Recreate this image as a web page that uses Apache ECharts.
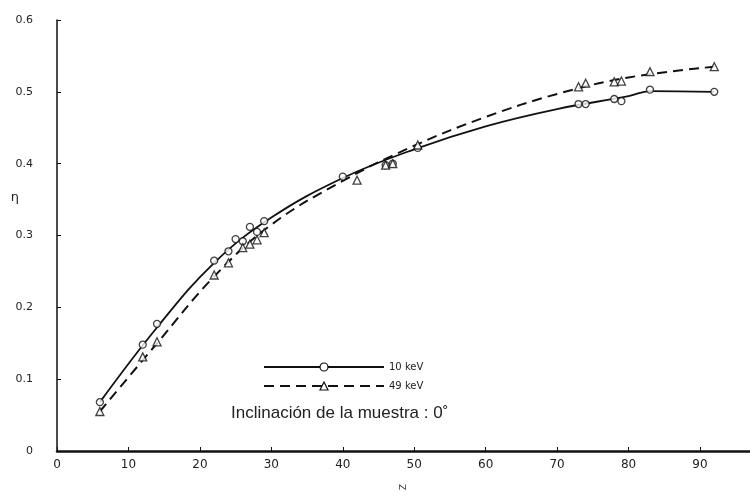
<!DOCTYPE html>
<html>
<head>
<meta charset="utf-8">
<script src="https://cdn.jsdelivr.net/npm/echarts@6/dist/echarts.min.js"></script>
<style>
  html, body { margin: 0; padding: 0; background: #fff; }
  #chart { width: 750px; height: 500px; }
</style>
</head>
<body>
<div id="chart"></div>
<script>
// measured points, 10 keV (circles)
const z10 = [6, 12, 14, 22, 24, 25, 26, 27, 28, 29, 40, 46, 47, 50.5, 73, 74, 78, 79, 83, 92]
const eta10 = [0.068, 0.148, 0.177, 0.265, 0.278, 0.295, 0.292, 0.312, 0.305, 0.320, 0.382, 0.398, 0.400, 0.422, 0.483, 0.483, 0.490, 0.487, 0.503, 0.500]

// measured points, 49 keV (triangles)
const z49 = [6, 12, 14, 22, 24, 26, 27, 28, 29, 42, 46, 47, 50.5, 73, 74, 78, 79, 83, 92]
const eta49 = [0.055, 0.131, 0.152, 0.245, 0.262, 0.283, 0.288, 0.294, 0.304, 0.377, 0.398, 0.400, 0.426, 0.507, 0.512, 0.514, 0.515, 0.528, 0.535]

// drawn curves
const curveZ10 = [6, 14, 22, 30, 40, 50, 60, 70, 80, 83, 92]
const curveEta10 = [0.068, 0.172, 0.262, 0.325, 0.380, 0.420, 0.452, 0.476, 0.494, 0.501, 0.500]
const curveZ49 = [6, 14, 22, 30, 40, 50, 60, 70, 80, 92]
const curveEta49 = [0.055, 0.150, 0.243, 0.315, 0.376, 0.425, 0.465, 0.497, 0.520, 0.535]

const names = ['10 keV', '49 keV']

const pairs = (xs, ys) => xs.map((x, i) => [x, ys[i]])

const chart = echarts.init(document.getElementById('chart'))

const markerStyle = { color: '#fff', borderColor: '#111', borderWidth: 1.3 }

const option = {
  animation: false,
  backgroundColor: '#fff',
  textStyle: { fontFamily: 'DejaVu Sans', color: '#222' },
  title: {
    text: 'Inclinación de la muestra : 0˚',
    left: 226,
    top: 400,
    textStyle: { fontSize: 17, fontWeight: 'normal', color: '#222', fontFamily: 'Liberation Sans' }
  },
  legend: {
    orient: 'vertical',
    left: 258,
    top: 357,
    itemWidth: 120,
    itemHeight: 10,
    itemGap: 9,
    textStyle: { fontSize: 10, color: '#222' },
    data: names.map((name) => ({ name, itemStyle: { color: '#fff', borderColor: '#111', borderWidth: 1.2, borderType: 'solid' } }))
  },
  grid: { left: 57, right: 0, top: 20, bottom: 49, outerBoundsMode: 'none' },
  xAxis: {
    type: 'value',
    min: 0,
    max: 97,
    interval: 10,
    name: 'Z',
    nameLocation: 'middle',
    nameGap: 33,
    nameRotate: 90,
    nameMoveOverlap: false,
    nameTextStyle: { fontSize: 9, color: '#333' },
    splitLine: { show: false },
    axisLine: { lineStyle: { color: '#111', width: 2.5 } },
    axisTick: { inside: true, length: 4, lineStyle: { color: '#111' } },
    axisLabel: {
      margin: 8,
      fontSize: 12,
      color: '#222',
      formatter: (v) => (v % 10 === 0 ? String(v) : '')
    }
  },
  yAxis: {
    type: 'value',
    min: 0,
    max: 0.6,
    interval: 0.1,
    name: 'η',
    nameLocation: 'middle',
    nameGap: 38,
    nameRotate: 0,
    nameMoveOverlap: false,
    nameTextStyle: { fontSize: 13, color: '#222', verticalAlign: 'bottom', lineHeight: 76 },
    splitLine: { show: false },
    axisLine: { lineStyle: { color: '#111', width: 1.5 } },
    axisTick: { inside: true, length: 4, lineStyle: { color: '#111' } },
    axisLabel: { margin: 24, fontSize: 11, color: '#222' }
  },
  series: [
    {
      name: names[0],
      type: 'line',
      smooth: 0.4,
      symbol: 'circle',
      symbolSize: 7,
      showSymbol: false,
      itemStyle: markerStyle,
      lineStyle: { color: '#111', width: 1.8 },
      data: pairs(curveZ10, curveEta10),
      z: 2
    },
    {
      name: names[1],
      type: 'line',
      smooth: 0.4,
      symbol: 'triangle',
      symbolSize: 8,
      showSymbol: false,
      itemStyle: markerStyle,
      lineStyle: { color: '#111', width: 2, type: [10, 6] },
      data: pairs(curveZ49, curveEta49),
      z: 2
    },
    {
      type: 'scatter',
      symbol: 'circle',
      symbolSize: 7,
      itemStyle: markerStyle,
      data: pairs(z10, eta10),
      z: 3
    },
    {
      type: 'scatter',
      symbol: 'triangle',
      symbolSize: 8,
      itemStyle: markerStyle,
      data: pairs(z49, eta49),
      z: 3
    }
  ]
}

chart.setOption(option)
</script>
</body>
</html>
